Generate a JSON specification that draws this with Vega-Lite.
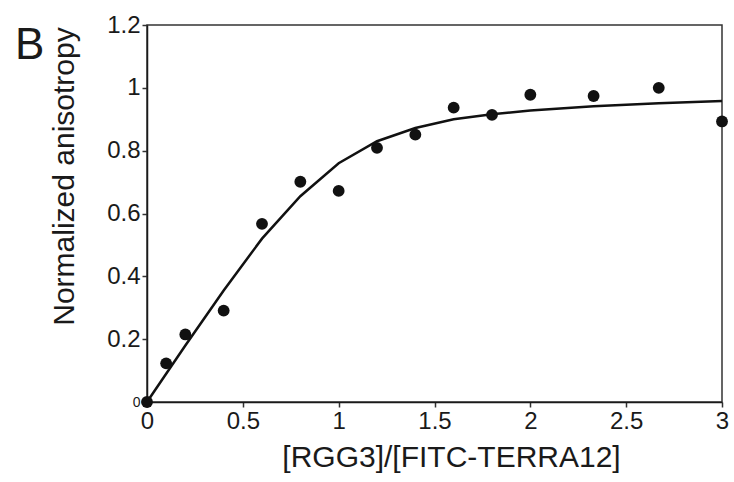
{
  "$schema": "https://vega.github.io/schema/vega-lite/v6.json",
  "width": 575,
  "height": 377,
  "autosize": "none",
  "padding": {"left": 147, "top": 25, "right": 12, "bottom": 80},
  "background": "white",
  "config": {
    "font": "Liberation Sans",
    "view": {"stroke": "#333333", "strokeWidth": 1.5},
    "axis": {"grid": false}
  },
  "title": {
    "text": "B",
    "fontSize": 44,
    "fontWeight": "normal",
    "font": "Liberation Sans",
    "color": "#1a1a1a",
    "anchor": "start",
    "frame": "group",
    "orient": "top",
    "offset": 0,
    "baseline": "alphabetic",
    "dx": -132,
    "dy": 90
  },
  "datasets": {
    "points": [
      {"ratio": 0, "anisotropy": 0},
      {"ratio": 0.1, "anisotropy": 0.123},
      {"ratio": 0.2, "anisotropy": 0.215},
      {"ratio": 0.4, "anisotropy": 0.291},
      {"ratio": 0.6, "anisotropy": 0.567},
      {"ratio": 0.8, "anisotropy": 0.701},
      {"ratio": 1.0, "anisotropy": 0.672},
      {"ratio": 1.2, "anisotropy": 0.809},
      {"ratio": 1.4, "anisotropy": 0.851},
      {"ratio": 1.6, "anisotropy": 0.937},
      {"ratio": 1.8, "anisotropy": 0.914},
      {"ratio": 2.0, "anisotropy": 0.978},
      {"ratio": 2.33, "anisotropy": 0.974},
      {"ratio": 2.67, "anisotropy": 1.0},
      {"ratio": 3.0, "anisotropy": 0.893}
    ],
    "fit": [
      {"ratio": 0, "anisotropy": 0},
      {"ratio": 0.2, "anisotropy": 0.18},
      {"ratio": 0.4, "anisotropy": 0.355},
      {"ratio": 0.6, "anisotropy": 0.52},
      {"ratio": 0.8, "anisotropy": 0.655},
      {"ratio": 1.0, "anisotropy": 0.76},
      {"ratio": 1.2, "anisotropy": 0.83},
      {"ratio": 1.4, "anisotropy": 0.872},
      {"ratio": 1.6, "anisotropy": 0.9},
      {"ratio": 1.8, "anisotropy": 0.916},
      {"ratio": 2.0, "anisotropy": 0.928},
      {"ratio": 2.33, "anisotropy": 0.941},
      {"ratio": 2.67, "anisotropy": 0.951},
      {"ratio": 3.0, "anisotropy": 0.958}
    ]
  },
  "encoding": {
    "x": {
      "field": "ratio",
      "type": "quantitative",
      "scale": {"domain": [0, 3], "nice": false, "zero": false},
      "axis": {
        "title": "[RGG3]/[FITC-TERRA12]",
        "values": [0, 0.5, 1, 1.5, 2, 2.5, 3],
        "format": "~g",
        "labelFontSize": 24,
        "labelColor": "#1a1a1a",
        "labelPadding": 2,
        "labelFlush": false,
        "labelOverlap": false,
        "tickSize": 5,
        "tickColor": "#333333",
        "tickWidth": 1.5,
        "domainColor": "#1a1a1a",
        "domainWidth": 1.5,
        "titleFontSize": 30,
        "titleFontWeight": "normal",
        "titleColor": "#1a1a1a",
        "titleBaseline": "alphabetic",
        "titleAnchor": "middle",
        "titleX": 304,
        "titleY": 64
      }
    },
    "y": {
      "field": "anisotropy",
      "type": "quantitative",
      "scale": {"domain": [0, 1.2], "nice": false},
      "axis": {
        "title": "Normalized anisotropy",
        "values": [0, 0.2, 0.4, 0.6, 0.8, 1, 1.2],
        "format": "~g",
        "labelExpr": "datum.value === 0 ? '0\u2007\u2007' : datum.label",
        "labelFontSize": {"condition": {"test": "datum.value === 0", "value": 14}, "value": 24},
        "labelColor": "#1a1a1a",
        "labelPadding": 2,
        "labelFlush": false,
        "labelOverlap": false,
        "tickSize": 5,
        "tickColor": "#333333",
        "tickWidth": 1.5,
        "domainColor": "#1a1a1a",
        "domainWidth": 1.5,
        "titleFontSize": 30,
        "titleFontWeight": "normal",
        "titleColor": "#1a1a1a",
        "titleBaseline": "alphabetic",
        "titleAnchor": "middle",
        "titleAngle": -90,
        "titleX": -74,
        "titleY": 151
      }
    }
  },
  "layer": [
    {
      "data": {"name": "fit"},
      "mark": {"type": "line", "color": "#111111", "strokeWidth": 2.5, "clip": false}
    },
    {
      "data": {"name": "points"},
      "mark": {"type": "point", "filled": true, "shape": "circle", "size": 140, "color": "#111111", "opacity": 1, "clip": false}
    }
  ]
}
